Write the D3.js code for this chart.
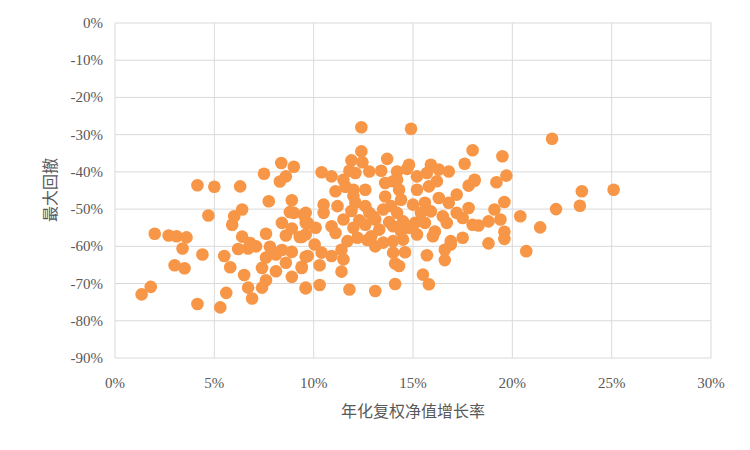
<!DOCTYPE html>
<html><head><meta charset="utf-8">
<script src="https://cdn.jsdelivr.net/npm/d3@7"></script>
<style>body{margin:0;background:#fff}</style></head>
<body><svg id="c" width="750" height="450"></svg>
<script>
const xTicks=[0,5,10,15,20,25,30];
const yTicks=[0,-10,-20,-30,-40,-50,-60,-70,-80,-90];
const xTitle="年化复权净值增长率";
const yTitle="最大回撤";
const growth=[8.37,9.0,7.5,8.6,8.3,4.15,5.0,6.3,7.74,8.9,4.7,6.4,6.0,5.9,8.8,8.4,8.9,8.6,9.3,9.6,2.0,2.7,3.1,3.6,3.4,4.4,3.0,3.5,1.8,1.34,4.15,5.3,5.6,5.5,5.8,6.5,6.7,6.9,7.4,7.6,7.4,8.1,8.9,9.6,9.4,6.2,6.7,7.1,6.4,6.8,7.6,7.8,7.6,8.1,8.4,8.9,8.6,9.6,9.4,9.0,9.6,
12.4,14.9,12.4,18.0,13.7,11.9,12.45,17.6,14.8,15.9,10.4,10.9,11.5,11.8,12.1,12.8,13.4,14.2,14.7,15.2,15.7,16.3,16.8,18.1,17.8,17.2,16.8,11.1,12.0,12.6,13.6,14.2,14.3,15.2,15.8,16.2,10.5,10.5,11.2,12.1,12.6,13.5,13.9,14.4,15.0,15.6,15.9,16.5,17.2,17.8,18.0,9.5,9.7,10.1,9.6,10.9,11.5,12.0,12.6,13.1,13.3,14.0,14.5,15.1,15.6,16.1,16.7,17.5,11.1,11.7,12.2,12.9,13.1,14.0,14.5,15.2,16.0,16.9,17.5,10.05,10.4,11.4,9.7,10.9,11.5,9.4,10.3,11.4,14.0,14.1,14.3,14.6,15.7,16.6,16.6,16.9,15.5,15.8,9.6,10.3,11.8,13.1,14.1,
22.0,19.5,19.7,19.2,18.1,23.5,25.1,19.6,19.1,22.2,23.4,20.4,19.4,18.8,18.3,21.4,19.6,19.6,18.8,20.7,
13.0,12.8,13.8,14.2,12.3,11.9,14.8,15.4,16.3,14.0,12.0,11.6,13.6,14.4,12.7,13.5];
const drawdown=[-37.6,-38.6,-40.5,-41.2,-42.6,-43.6,-44,-43.9,-47.9,-47.6,-51.7,-50.1,-51.9,-54.2,-50.8,-53.7,-55.2,-57.1,-57.5,-53.7,-56.6,-57.1,-57.3,-57.6,-60.6,-62.2,-65.1,-65.9,-70.9,-72.9,-75.5,-76.4,-72.5,-62.6,-65.6,-67.7,-71.1,-74,-71.1,-69.1,-65.8,-66.7,-68.2,-71.1,-65.5,-60.7,-60.6,-60,-57.4,-59.1,-56.6,-60.1,-63,-62.2,-61,-61.5,-64.4,-62.8,-57.5,-51,-51,
-28.0,-28.4,-34.5,-34.2,-36.5,-36.9,-37.4,-37.8,-38.1,-38.1,-40.1,-41.2,-42.1,-39.7,-40.3,-39.9,-39.7,-39.9,-39.2,-41.2,-40.3,-39.4,-39.9,-42.1,-43.7,-46.1,-48.3,-45.2,-44.8,-44.8,-46.6,-42.1,-44.8,-44.8,-43.9,-42.5,-48.8,-51,-49.2,-48.3,-49.2,-50.1,-49.2,-47.5,-48.8,-48.3,-50.6,-51.9,-51,-49.7,-54.2,-51.5,-53.7,-55.0,-56.8,-54.6,-52.8,-55.0,-54.2,-52.8,-55.5,-54.6,-53.3,-53.7,-53.7,-56.0,-53.7,-52.4,-56.4,-58.6,-57.7,-57.3,-60.0,-58.6,-58.2,-56.8,-57.3,-58.6,-57.7,-59.5,-61.7,-60.9,-62.6,-62.6,-63.5,-65.8,-65.1,-66.8,-61.7,-64.6,-65.3,-61.6,-62.4,-60.9,-63.7,-59.5,-67.6,-70.2,-71.3,-70.4,-71.6,-72.0,-70.1,
-31.1,-35.8,-41.0,-42.8,-42.4,-45.2,-44.8,-48.1,-50.1,-50.0,-49.1,-51.9,-52.8,-53.3,-54.4,-54.9,-56.1,-58.0,-59.2,-61.3,
-52,-51,-53.5,-51,-53,-50.5,-55,-51,-47,-42.5,-46.5,-44,-43,-56,-58.3,-59];
const svg=d3.select("#c");
const x=d3.scaleLinear().domain([0,30]).range([115,711]);
const y=d3.scaleLinear().domain([-90,0]).range([358,23]);
const font="'Liberation Serif','Times New Roman',serif";
svg.append("g").selectAll("line").data(yTicks).join("line")
 .attr("x1",115).attr("x2",711).attr("y1",d=>y(d)).attr("y2",d=>y(d)).attr("stroke","#d9d9d9").attr("stroke-width",1);
svg.append("g").selectAll("line").data(xTicks).join("line")
 .attr("y1",23).attr("y2",358).attr("x1",d=>x(d)).attr("x2",d=>x(d)).attr("stroke","#d9d9d9").attr("stroke-width",1);
svg.append("g").selectAll("text").data(yTicks).join("text")
 .attr("x",103).attr("y",d=>y(d)+5).attr("text-anchor","end").attr("font-family",font).attr("font-size",15).attr("fill","#595959")
 .text(d=>d+"%");
svg.append("g").selectAll("text").data(xTicks).join("text")
 .attr("x",d=>x(d)).attr("y",388).attr("text-anchor","middle").attr("font-family",font).attr("font-size",15).attr("fill","#595959")
 .text(d=>d+"%");
svg.append("g").selectAll("circle").data(growth.map((g,i)=>[g,drawdown[i]])).join("circle")
 .attr("cx",d=>x(d[0])).attr("cy",d=>y(d[1])).attr("r",6.3).attr("fill","#F79646");
svg.append("text").attr("x",413).attr("y",417).attr("text-anchor","middle").attr("font-family","'Noto Sans CJK SC'").attr("font-size",16).attr("fill","#595959").text(xTitle);
svg.append("text").attr("transform","translate(56,190) rotate(-90)").attr("text-anchor","middle").attr("font-family","'Noto Sans CJK SC'").attr("font-size",16).attr("fill","#595959").text(yTitle);
</script></body></html>
